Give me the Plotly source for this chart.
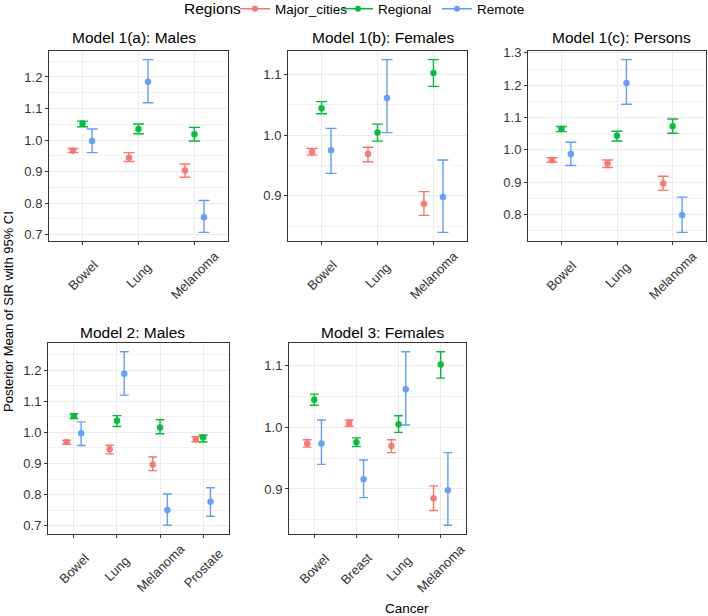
import numpy as np
import plotly.graph_objects as go

# ---------------- data ----------------
regions = ["Major_cities", "Regional", "Remote"]
colors = ["#F8766D", "#00BA38", "#619CFF"]

cats3 = ["Bowel", "Lung", "Melanoma"]
cats_m2 = ["Bowel", "Lung", "Melanoma", "Prostate"]
cats_m3 = ["Bowel", "Breast", "Lung", "Melanoma"]

# Model 1(a): Males
m1a_major = [0.966, 0.944, 0.903]; m1a_major_lo = [0.960, 0.932, 0.882]; m1a_major_hi = [0.973, 0.960, 0.924]
m1a_regional = [1.052, 1.035, 1.018]; m1a_regional_lo = [1.042, 1.020, 0.997]; m1a_regional_hi = [1.060, 1.051, 1.040]
m1a_remote = [0.997, 1.185, 0.755]; m1a_remote_lo = [0.960, 1.118, 0.707]; m1a_remote_hi = [1.035, 1.255, 0.808]

# Model 1(b): Females
m1b_major = [0.972, 0.969, 0.887]; m1b_major_lo = [0.967, 0.956, 0.868]; m1b_major_hi = [0.978, 0.980, 0.907]
m1b_regional = [1.044, 1.004, 1.102]; m1b_regional_lo = [1.035, 0.990, 1.080]; m1b_regional_hi = [1.055, 1.018, 1.124]
m1b_remote = [0.975, 1.061, 0.898]; m1b_remote_lo = [0.937, 1.004, 0.840]; m1b_remote_hi = [1.011, 1.124, 0.959]

# Model 1(c): Persons
m1c_major = [0.967, 0.957, 0.895]; m1c_major_lo = [0.961, 0.945, 0.874]; m1c_major_hi = [0.975, 0.968, 0.918]
m1c_regional = [1.064, 1.043, 1.073]; m1c_regional_lo = [1.056, 1.027, 1.051]; m1c_regional_hi = [1.072, 1.057, 1.095]
m1c_remote = [0.987, 1.207, 0.798]; m1c_remote_lo = [0.951, 1.141, 0.744]; m1c_remote_hi = [1.023, 1.279, 0.853]

# Model 2: Males
m2_major = [0.969, 0.946, 0.897, 0.978]; m2_major_lo = [0.962, 0.931, 0.877, 0.970]; m2_major_hi = [0.975, 0.959, 0.921, 0.986]
m2_regional = [1.053, 1.038, 1.016, 0.984]; m2_regional_lo = [1.045, 1.019, 0.996, 0.969]; m2_regional_hi = [1.060, 1.054, 1.041, 0.992]
m2_remote = [0.997, 1.189, 0.750, 0.777]; m2_remote_lo = [0.958, 1.120, 0.701, 0.730]; m2_remote_hi = [1.034, 1.260, 0.802, 0.822]

# Model 3: Females
m3_major = [0.974, 1.007, 0.970, 0.885]; m3_major_lo = [0.968, 1.002, 0.959, 0.865]; m3_major_hi = [0.980, 1.012, 0.980, 0.905]
m3_regional = [1.045, 0.976, 1.005, 1.102]; m3_regional_lo = [1.036, 0.969, 0.992, 1.080]; m3_regional_hi = [1.054, 0.983, 1.019, 1.123]
m3_remote = [0.974, 0.916, 1.062, 0.898]; m3_remote_lo = [0.940, 0.886, 1.004, 0.841]; m3_remote_hi = [1.012, 0.947, 1.123, 0.959]

panels = [
    dict(title="Model 1(a): Males", cats=cats3,
         series=[(m1a_major, m1a_major_lo, m1a_major_hi), (m1a_regional, m1a_regional_lo, m1a_regional_hi), (m1a_remote, m1a_remote_lo, m1a_remote_hi)]),
    dict(title="Model 1(b): Females", cats=cats3,
         series=[(m1b_major, m1b_major_lo, m1b_major_hi), (m1b_regional, m1b_regional_lo, m1b_regional_hi), (m1b_remote, m1b_remote_lo, m1b_remote_hi)]),
    dict(title="Model 1(c): Persons", cats=cats3,
         series=[(m1c_major, m1c_major_lo, m1c_major_hi), (m1c_regional, m1c_regional_lo, m1c_regional_hi), (m1c_remote, m1c_remote_lo, m1c_remote_hi)]),
    dict(title="Model 2: Males", cats=cats_m2,
         series=[(m2_major, m2_major_lo, m2_major_hi), (m2_regional, m2_regional_lo, m2_regional_hi), (m2_remote, m2_remote_lo, m2_remote_hi)]),
    dict(title="Model 3: Females", cats=cats_m3,
         series=[(m3_major, m3_major_lo, m3_major_hi), (m3_regional, m3_regional_lo, m3_regional_hi), (m3_remote, m3_remote_lo, m3_remote_hi)]),
]

# ---------------- layout geometry (pixels in 708x616 canvas) ----------------
W, H = 708, 616
boxes = [  # x0, x1, ytop, ybottom
    (49, 228, 51, 241),
    (288, 467, 51, 241),
    (528, 706, 51, 241),
    (48, 229, 343, 534),
    (289, 466, 343, 534),
]
title_pos = [(133.5, 38), (383, 38), (621.5, 38), (132.5, 332), (382.5, 332)]
dodge = [-0.17, 0.0, 0.17]

FONT = "Liberation Sans, Arial, sans-serif"
TICKFONT = dict(family=FONT, size=13, color="#333333")
fig = go.Figure()
annotations = []

for i, (p, b) in enumerate(zip(panels, boxes)):
    ax = "" if i == 0 else str(i + 1)
    n = len(p["cats"])
    pos = np.arange(1, n + 1)
    capw = 5.5 if n == 3 else 4.4
    all_lo = np.concatenate([np.array(s[1]) for s in p["series"]])
    all_hi = np.concatenate([np.array(s[2]) for s in p["series"]])
    span = all_hi.max() - all_lo.min()
    yr = [all_lo.min() - 0.05 * span, all_hi.max() + 0.05 * span]

    for k, (mean, lo, hi) in enumerate(p["series"]):
        mean = np.array(mean); lo = np.array(lo); hi = np.array(hi)
        fig.add_trace(go.Scatter(
            x=pos + dodge[k], y=mean, mode="markers",
            marker=dict(color=colors[k], size=6.5, opacity=0.95),
            error_y=dict(type="data", symmetric=False, array=hi - mean, arrayminus=mean - lo,
                         color=colors[k], thickness=1.4, width=capw),
            xaxis="x" + ax, yaxis="y" + ax, showlegend=False, name=regions[k],
        ))

    x0, x1, yt, yb = b
    common = dict(showline=True, mirror=True, linecolor="#333333", linewidth=1,
                  ticks="outside", ticklen=3, tickcolor="#333333", tickfont=TICKFONT,
                  showgrid=True, gridcolor="#EBEBEB", gridwidth=1, zeroline=False)
    fig.layout["xaxis" + ax] = dict(
        domain=[x0 / W, x1 / W], anchor="y" + ax, range=[0.4, n + 0.6],
        tickmode="array", tickvals=pos, ticktext=p["cats"], showticklabels=False, **common)
    fig.layout["yaxis" + ax] = dict(
        domain=[1 - yb / H, 1 - yt / H], anchor="x" + ax, range=yr,
        dtick=0.1, tick0=0, tickformat=".1f",
        minor=dict(dtick=0.05, showgrid=True, gridcolor="#F2F2F2", gridwidth=0.7, ticks=""),
        **common)
    # rotated category labels, centred on each tick (ggplot angle=45 style)
    for c, cname in zip(pos, p["cats"]):
        annotations.append(dict(text=cname, x=c, xref="x" + ax, y=1 - (yb + 34) / H, yref="paper",
                                textangle=-45, xanchor="center", yanchor="middle",
                                showarrow=False, font=TICKFONT))
    tx, ty = title_pos[i]
    annotations.append(dict(text=p["title"], x=tx / W, y=1 - ty / H,
                            xref="paper", yref="paper", xanchor="center", yanchor="middle",
                            showarrow=False, font=dict(family=FONT, size=15.5, color="black")))

# legend entries (one small legend per region so they can be placed like the original)
legend_ids = ["legend", "legend2", "legend3"]
legend_x = [235, 338, 437]
for k in range(3):
    fig.add_trace(go.Scatter(x=[None], y=[None], mode="lines+markers", name=regions[k],
                             marker=dict(color=colors[k], size=6), line=dict(color=colors[k], width=1.4),
                             xaxis="x", yaxis="y", showlegend=True, legend=legend_ids[k]))

legend_common = dict(orientation="h", xanchor="left", yanchor="middle", y=1 - 9 / H,
                     font=dict(family=FONT, size=13.5, color="black"), bgcolor="rgba(0,0,0,0)")
layout_legends = {lid: dict(x=lx / W, **legend_common) for lid, lx in zip(legend_ids, legend_x)}

annotations.append(dict(text="Regions", x=182 / W, y=1 - 8 / H, xref="paper", yref="paper",
                        xanchor="left", yanchor="middle", showarrow=False,
                        font=dict(family=FONT, size=15.5, color="black")))
annotations.append(dict(text="Posterior Mean of SIR with 95% CI", x=9 / W, y=1 - 312 / H,
                        xref="paper", yref="paper", textangle=-90, showarrow=False,
                        xanchor="center", yanchor="middle",
                        font=dict(family=FONT, size=13, color="black")))
annotations.append(dict(text="Cancer", x=407 / W, y=1 - 608 / H, xref="paper", yref="paper",
                        showarrow=False, xanchor="center", yanchor="middle",
                        font=dict(family=FONT, size=13.5, color="black")))

fig.update_layout(
    width=W, height=H, margin=dict(l=0, r=0, t=0, b=0, autoexpand=False),
    paper_bgcolor="white", plot_bgcolor="white",
    annotations=annotations,
    font=dict(family=FONT),
    **layout_legends,
)

fig.write_html("out.html", config={"displayModeBar": False},
               post_script="document.body.style.margin='0';document.body.style.overflow='hidden';")
